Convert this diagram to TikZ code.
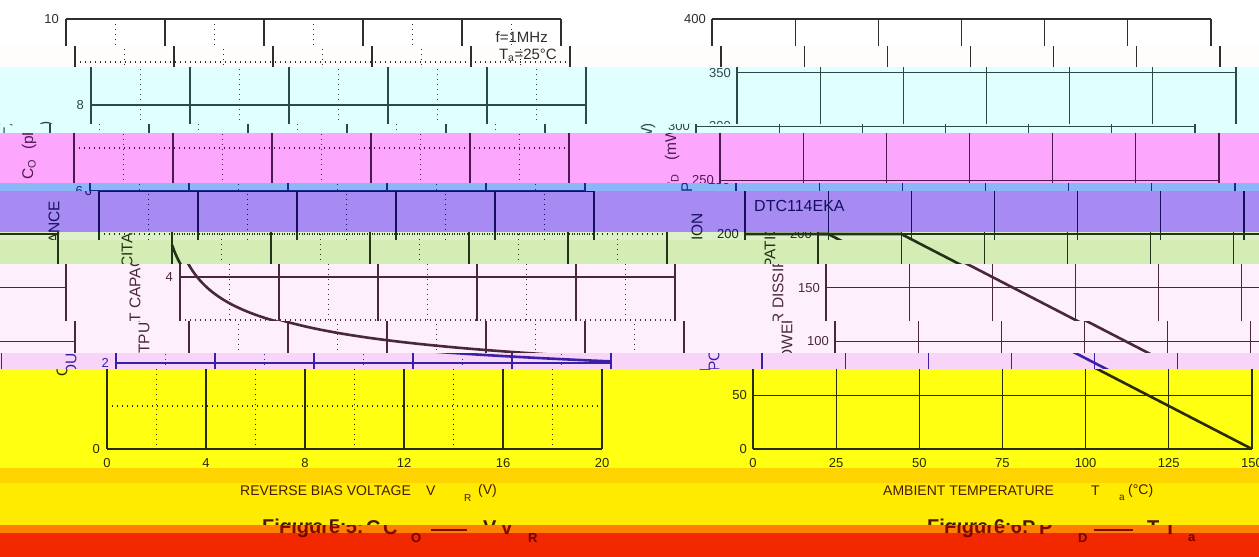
\documentclass[tikz,border=0pt]{standalone}
\usepackage{fontspec}
\setmainfont{Liberation Sans}
\definecolor{cW}{HTML}{FFFFFF}
\definecolor{cWb}{HTML}{FFFDFB}
\definecolor{cCy}{HTML}{E0FFFF}
\definecolor{cPk}{HTML}{FDA6FD}
\definecolor{cBl}{HTML}{8BB6F8}
\definecolor{cPu}{HTML}{A78BF2}
\definecolor{cGrb}{HTML}{DCF1C6}
\definecolor{cGr}{HTML}{D3EDB5}
\definecolor{cLp}{HTML}{FDF0FC}
\definecolor{cPkb}{HTML}{F8D4F8}
\definecolor{cY}{HTML}{FFFF12}
\definecolor{cDY}{HTML}{FFD300}
\definecolor{cYb}{HTML}{FFEB00}
\definecolor{cOr}{HTML}{FF7F00}
\definecolor{cRd}{HTML}{F12800}
\definecolor{kW}{HTML}{2E2E2E}
\definecolor{kCy}{HTML}{2B4A45}
\definecolor{kPk}{HTML}{4D1850}
\definecolor{kBl}{HTML}{1A2A8A}
\definecolor{kPu}{HTML}{141060}
\definecolor{kGr}{HTML}{223318}
\definecolor{kLp}{HTML}{4A2838}
\definecolor{kPkb}{HTML}{3A20A8}
\definecolor{kY}{HTML}{2A2A00}
\definecolor{kDY}{HTML}{5A3000}
\definecolor{kYb}{HTML}{4A1A00}
\definecolor{kOr}{HTML}{800A00}
\definecolor{kRd}{HTML}{700000}
\colorlet{ink}{black}
\newcommand{\myfs}[1]{\fontsize{#1}{#1}\selectfont}
\tikzset{
  gs/.style={draw=ink,line width=1.2pt},
  gd/.style={draw=ink,line width=1.2pt,dash pattern=on 1.2pt off 3.8pt},
  crv/.style={draw=ink,line width=2.6pt,line join=round},
  tl/.style={text=ink,inner sep=0pt,font=\myfs{13}},
  yl/.style={text=ink,inner sep=0pt,font=\myfs{15.5},rotate=90,anchor=west},
  xt/.style={text=ink,inner sep=0pt,font=\myfs{14},anchor=west},
  xs/.style={text=ink,inner sep=0pt,font=\myfs{10},anchor=west},
  ft/.style={text=ink,inner sep=0pt,font=\bfseries\myfs{20},anchor=west},
  fs/.style={text=ink,inner sep=0pt,font=\bfseries\myfs{13},anchor=west},
}
\newcommand{\origpic}{%
  % ---- left chart: Co vs VR
  \foreach \v in {0,4,...,20} {\draw[gs] ({107+24.75*\v},19) -- ({107+24.75*\v},449);}
  \foreach \v in {2,6,...,18} {\draw[gd] ({107+24.75*\v},19) -- ({107+24.75*\v},449);}
  \foreach \c in {0,2,...,10} {\draw[gs] (107,{449-43*\c}) -- (602,{449-43*\c});}
  \foreach \c in {1,3,...,9} {\draw[gd] (107,{449-43*\c}) -- (602,{449-43*\c});}
  \foreach \c in {0,2,...,10} {\node[tl,anchor=east] at (100,{449-43*\c}) {\c};}
  \foreach \v in {0,4,...,20} {\node[tl] at ({107+24.75*\v},463) {\v};}
  \draw[crv] plot[domain=0:1,samples=160] ({107+495*\x*\x},{449-43*4.75/((1+28.57*\x*\x)^0.25)});
  \node[tl,anchor=east,font=\myfs{15}] at (589,37) {f=1MHz};
  \node[tl,anchor=east,font=\myfs{15}] at (589,55) {T\textsubscript{a}=25°C};
  \node[yl] at (62,377) {OUTPUT CAPACITANCE};
  \node[yl] at (62,180) {C\textsubscript{O}};
  \node[yl] at (62,150) {(pF)};
  \node[xt] at (240,491) {REVERSE BIAS VOLTAGE};
  \node[xt] at (426,491) {V};
  \node[xs] at (464,498) {R};
  \node[xt] at (478,491) {(V)};
  \node[ft] at (262,528) {Figure 5:};
  \node[ft] at (366,528) {C};
  \node[fs] at (394,538) {O};
  \draw[draw=ink,line width=2.6pt] (414,530) -- (450,530);
  \node[ft] at (483,528) {V};
  \node[fs] at (511,538) {R};
  % ---- right chart: PD vs Ta
  \foreach \k in {0,...,6} {\draw[gs] ({753+83.15*\k},19) -- ({753+83.15*\k},449);}
  \foreach \k in {0,...,8} {\draw[gs] (753,{449-53.75*\k}) -- (1252,{449-53.75*\k});}
  \foreach \k [evaluate=\k as \lab using int(50*\k)] in {0,...,8} {\node[tl,anchor=east] at (747,{449-53.75*\k}) {\lab};}
  \foreach \k [evaluate=\k as \lab using int(25*\k)] in {0,...,6} {\node[tl] at ({753+83.15*\k},463) {\lab};}
  \draw[crv] (753,234) -- (836.15,234) -- (1252,449);
  \node[tl,anchor=west,font=\myfs{16}] at (762,206) {DTC114EKA};
  \node[yl] at (705,372) {POWER DISSIPATION};
  \node[yl] at (705,193) {P\textsubscript{D}};
  \node[yl] at (705,161) {(mW)};
  \node[xt] at (883,491) {AMBIENT TEMPERATURE};
  \node[xt] at (1091,491) {T};
  \node[xs] at (1119,498) {a};
  \node[xt] at (1128,491) {(°C)};
  \node[ft] at (927,528) {Figure 6:};
  \node[ft] at (1022,528) {P};
  \node[fs] at (1061,538) {D};
  \draw[draw=ink,line width=2.6pt] (1077,530) -- (1116,530);
  \node[ft] at (1147,528) {T};
  \node[fs] at (1171,538) {a};
}
% band: y1, y2, fill colour, ink colour, list of horizontal shifts (wrap copies included)
\newcommand{\band}[5]{%
  \begin{scope}
    \clip (0,#1) rectangle (1259,#2);
    \fill[#3] (-2,#1) rectangle (1261,#2);
    \colorlet{ink}{#4}%
    \foreach \s in {#5} {
      \begin{scope}[xshift={\s}]
        \origpic
      \end{scope}
    }
  \end{scope}}
\begin{document}
\begin{tikzpicture}[x=1pt,y=-1pt]
  \useasboundingbox (0,0) rectangle (1259,557);
  \band{0}{46}{cW}{kW}{-41}
  \band{46}{67}{cWb}{kW}{-32}
  \band{67}{124}{cCy}{kCy}{-16}
  \band{124}{133}{cCy}{kCy}{-57}
  \band{133}{183}{cPk}{kPk}{-33}
  \band{183}{191}{cBl}{kBl}{-17}
  \band{191}{232}{cPu}{kPu}{-8}
  \band{232}{240}{cGrb}{kGr}{-8,65,-1194}
  \band{240}{264}{cGr}{kGr}{65,-1194}
  \band{264}{321}{cLp}{kLp}{73,-1186}
  \band{321}{353}{cLp}{kLp}{82,-1177}
  \band{353}{369}{cPkb}{kPkb}{9,-1250}
  \band{369}{468}{cY}{kY}{0}
  \band{468}{483}{cDY}{kDY}{10,-1249}
  \band{483}{525}{cYb}{kYb}{0}
  \band{525}{533}{cOr}{kOr}{17,-1242}
  \band{533}{557}{cRd}{kRd}{17,-1242}
\end{tikzpicture}
\end{document}
